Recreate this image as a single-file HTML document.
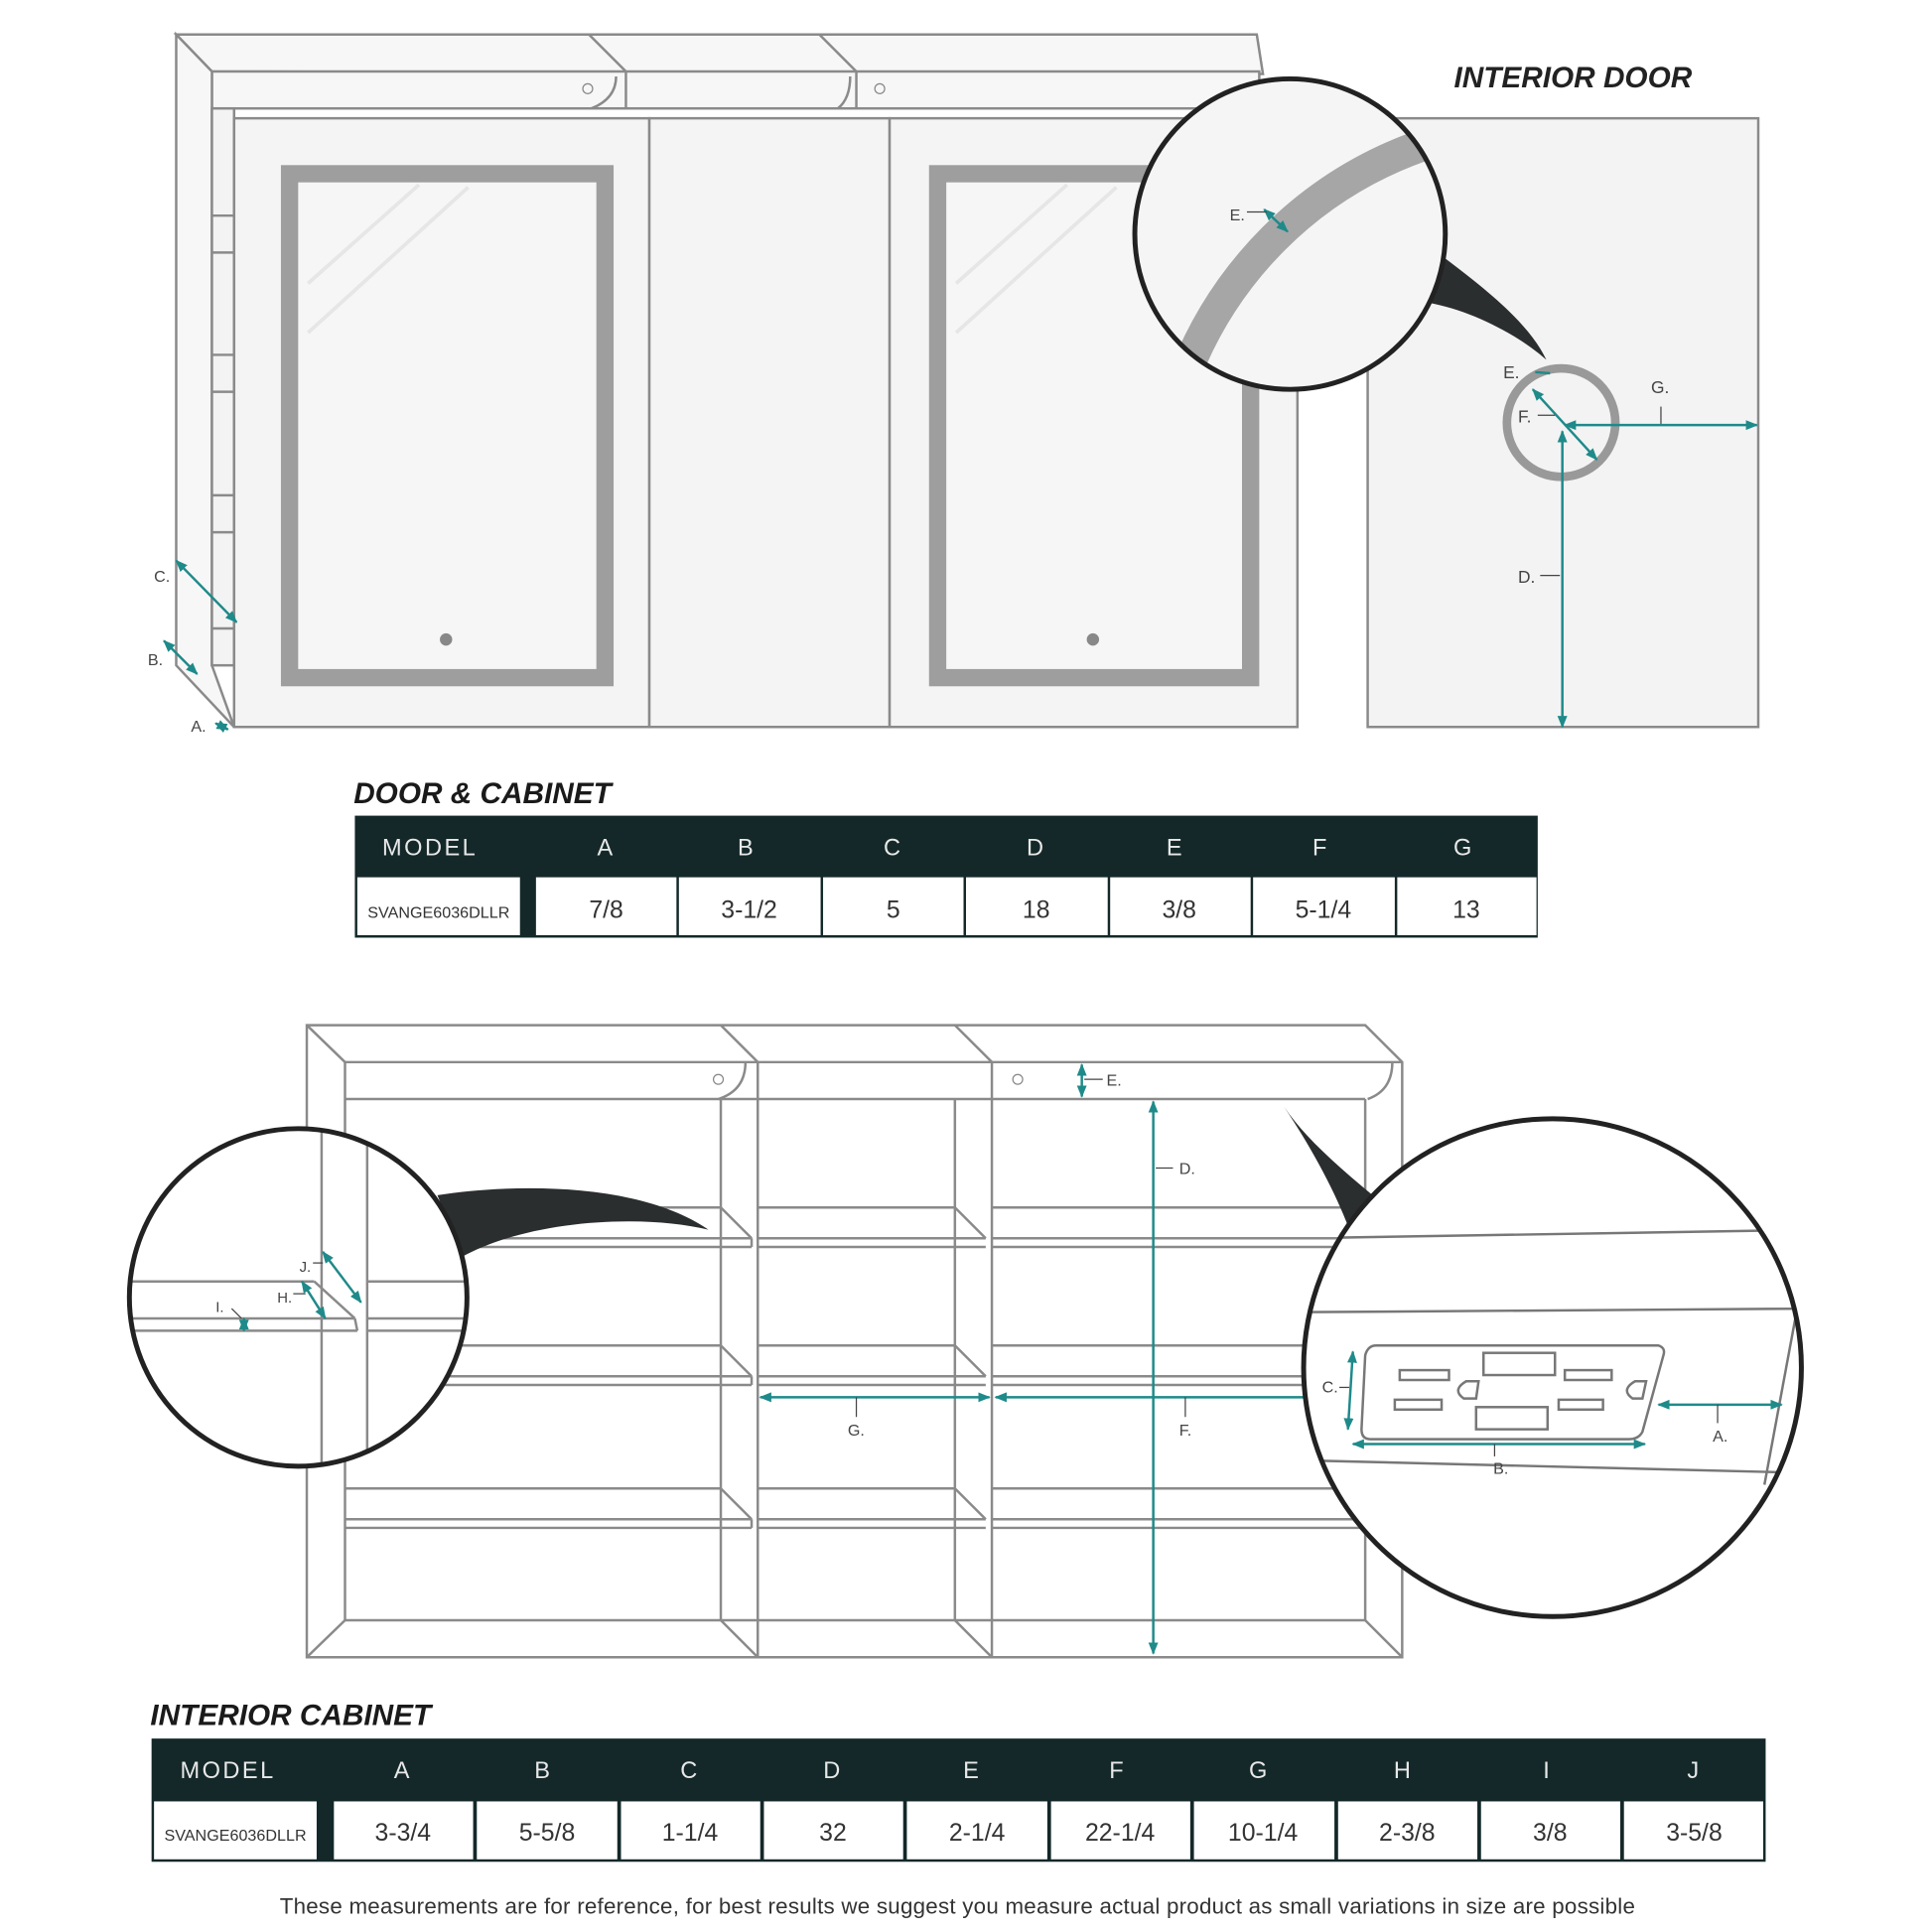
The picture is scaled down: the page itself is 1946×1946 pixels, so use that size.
<!DOCTYPE html>
<html><head><meta charset="utf-8"><style>
html,body{margin:0;padding:0;background:#fff;width:1946px;height:1946px;overflow:hidden}
svg{display:block}
text{font-family:"Liberation Sans",sans-serif}
</style></head><body>
<svg width="1946" height="1946" viewBox="0 0 1568 1568" xmlns="http://www.w3.org/2000/svg">
<defs>
<marker id="ah" viewBox="0 0 10 10" refX="9" refY="5" markerWidth="5" markerHeight="5" orient="auto-start-reverse"><path d="M0,1 L10,5 L0,9 z" fill="#1f8a8a"/></marker>
<clipPath id="c1"><circle cx="1047" cy="190" r="125"/></clipPath>
<clipPath id="c2"><circle cx="242" cy="1053" r="136"/></clipPath>
<clipPath id="c3"><circle cx="1260" cy="1110" r="201"/></clipPath>
</defs>
<rect width="1568" height="1568" fill="#fff"/>
<g fill="none" stroke="#8a8a8a" stroke-width="2">
<polygon points="143,28 1020,28 1025,60 172,58" fill="#f7f7f7"/>
<line x1="478" y1="28" x2="508" y2="58"/><line x1="665" y1="28" x2="695" y2="58"/>
<rect x="172" y="58" width="850" height="30" fill="#f7f7f7"/>
<line x1="508" y1="58" x2="508" y2="88"/><line x1="695" y1="58" x2="695" y2="88"/>
<path d="M480,88 Q500,80 500,62"/><path d="M680,88 Q690,80 690,62"/>
<polygon points="143,28 172,58 172,540 190,590 143,540" fill="#f7f7f7"/>
<rect x="172" y="88" width="18" height="452" fill="#f3f3f3"/>
<line x1="172" y1="175" x2="190" y2="175"/><line x1="172" y1="205" x2="190" y2="205"/>
<line x1="172" y1="288" x2="190" y2="288"/><line x1="172" y1="318" x2="190" y2="318"/>
<line x1="172" y1="402" x2="190" y2="402"/><line x1="172" y1="432" x2="190" y2="432"/>
<line x1="172" y1="510" x2="190" y2="510"/>
<rect x="190" y="96" width="337" height="494" fill="#f4f4f4"/>
<rect x="527" y="96" width="195" height="494" fill="#f4f4f4"/>
<rect x="722" y="96" width="331" height="494" fill="#f4f4f4"/>
<rect x="1110" y="96" width="317" height="494" fill="#f3f3f3"/>
</g>
<circle cx="477" cy="72" r="4" fill="none" stroke="#888"/><circle cx="714" cy="72" r="4" fill="none" stroke="#888"/>
<rect x="235" y="141" width="256" height="409" fill="#f6f6f6" stroke="#9e9e9e" stroke-width="14"/>
<rect x="761" y="141" width="254" height="409" fill="#f6f6f6" stroke="#9e9e9e" stroke-width="14"/>
<g stroke="#e6e6e6" stroke-width="3"><line x1="250" y1="230" x2="340" y2="150"/><line x1="250" y1="270" x2="380" y2="152"/><line x1="776" y1="230" x2="866" y2="150"/><line x1="776" y1="270" x2="906" y2="152"/></g>
<circle cx="362" cy="519" r="5" fill="#888"/><circle cx="887" cy="519" r="5" fill="#888"/>
<g stroke="#1f8a8a" stroke-width="2" marker-start="url(#ah)" marker-end="url(#ah)">
<line x1="143" y1="455" x2="192" y2="505"/><line x1="133" y1="520" x2="160" y2="547"/><line x1="175" y1="587" x2="185" y2="592"/>
</g>
<g font-size="13" fill="#444"><text x="125" y="472">C.</text><text x="120" y="540">B.</text><text x="155" y="594">A.</text></g>
<circle cx="1267" cy="343" r="44" fill="none" stroke="#999" stroke-width="7"/>
<g stroke="#1f8a8a" stroke-width="2">
<line x1="1244" y1="316" x2="1296" y2="373" marker-start="url(#ah)" marker-end="url(#ah)"/>
<line x1="1270" y1="345" x2="1426" y2="345" marker-start="url(#ah)" marker-end="url(#ah)"/>
<line x1="1268" y1="350" x2="1268" y2="590" marker-start="url(#ah)" marker-end="url(#ah)"/>
<line x1="1246" y1="302" x2="1258" y2="303"/>
</g>
<g stroke="#444" stroke-width="1"><line x1="1348" y1="330" x2="1348" y2="344"/><line x1="1248" y1="337" x2="1262" y2="337"/><line x1="1250" y1="467" x2="1266" y2="467"/></g>
<g font-size="14" fill="#444"><text x="1220" y="307">E.</text><text x="1232" y="343">F.</text><text x="1340" y="319">G.</text><text x="1232" y="473">D.</text></g>
<path d="M1160,200 C1200,230 1240,260 1255,292 C1230,270 1190,250 1155,245 Z" fill="#2b2e2f"/>
<circle cx="1047" cy="190" r="126" fill="#f6f5f5"/>
<g clip-path="url(#c1)"><circle cx="1260" cy="420" r="320" fill="none" stroke="#a6a6a6" stroke-width="26"/></g>
<circle cx="1047" cy="190" r="126" fill="none" stroke="#222" stroke-width="4"/>
<line x1="1026" y1="170" x2="1045" y2="188" stroke="#1f8a8a" stroke-width="2" marker-start="url(#ah)" marker-end="url(#ah)"/>
<line x1="1012" y1="172" x2="1028" y2="172" stroke="#444"/>
<text x="998" y="179" font-size="13" fill="#444">E.</text>
<text x="1180" y="71" font-size="24" font-weight="bold" font-style="italic" fill="#222">INTERIOR DOOR</text>
<text x="287" y="652" font-size="24" font-weight="bold" font-style="italic" fill="#1a1a1a">DOOR &amp; CABINET</text>
<rect x="288" y="662" width="960" height="99" fill="#142829"/>
<g fill="#fff"><rect x="290" y="712" width="132" height="47"/>
<rect x="435" y="712" width="114" height="47"/><rect x="551" y="712" width="115" height="47"/><rect x="668" y="712" width="114" height="47"/><rect x="784" y="712" width="115" height="47"/><rect x="901" y="712" width="114" height="47"/><rect x="1017" y="712" width="115" height="47"/><rect x="1134" y="712" width="113" height="47"/></g>
<g font-size="19" fill="#e8e8e8" text-anchor="middle" letter-spacing="2"><text x="349" y="694">MODEL</text><text x="492" y="694">A</text><text x="606" y="694">B</text><text x="725" y="694">C</text><text x="841" y="694">D</text><text x="954" y="694">E</text><text x="1072" y="694">F</text><text x="1188" y="694">G</text></g>
<g font-size="20" fill="#333" text-anchor="middle"><text x="356" y="745" font-size="13">SVANGE6036DLLR</text><text x="492" y="745">7/8</text><text x="608" y="745">3-1/2</text><text x="725" y="745">5</text><text x="841" y="745">18</text><text x="957" y="745">3/8</text><text x="1074" y="745">5-1/4</text><text x="1190" y="745">13</text></g>
<g fill="none" stroke="#8a8a8a" stroke-width="2">
<polygon points="249,832 1108,832 1138,862 1138,1345 249,1345" fill="#fff"/>
<line x1="249" y1="832" x2="280" y2="862"/><line x1="280" y1="862" x2="1138" y2="862"/>
<line x1="585" y1="832" x2="615" y2="862"/><line x1="775" y1="832" x2="805" y2="862"/>
<line x1="280" y1="862" x2="280" y2="1315"/><line x1="280" y1="1315" x2="249" y2="1345"/>
<line x1="1108" y1="892" x2="1108" y2="1315"/><line x1="1108" y1="1315" x2="1138" y2="1345"/>
<line x1="280" y1="892" x2="1108" y2="892"/>
<path d="M583,892 Q605,885 605,862"/><path d="M1110,892 Q1130,885 1130,862"/>
<line x1="615" y1="862" x2="615" y2="1345"/><line x1="805" y1="862" x2="805" y2="1345"/>
<line x1="585" y1="892" x2="585" y2="1315"/><line x1="775" y1="892" x2="775" y2="1315"/>
<line x1="585" y1="1315" x2="615" y2="1345"/><line x1="775" y1="1315" x2="805" y2="1345"/>
<line x1="280" y1="1315" x2="1108" y2="1315"/>
<g id="sh">
<line x1="280" y1="980" x2="585" y2="980"/><line x1="585" y1="980" x2="610" y2="1005"/><line x1="280" y1="1005" x2="610" y2="1005"/><line x1="280" y1="1012" x2="610" y2="1012"/><line x1="610" y1="1005" x2="610" y2="1012"/>
<line x1="615" y1="980" x2="775" y2="980"/><line x1="775" y1="980" x2="800" y2="1005"/><line x1="615" y1="1005" x2="800" y2="1005"/><line x1="615" y1="1012" x2="800" y2="1012"/>
<line x1="805" y1="980" x2="1108" y2="980"/><line x1="805" y1="1005" x2="1108" y2="1005"/><line x1="805" y1="1012" x2="1108" y2="1012"/>
</g>
<use href="#sh" y="112"/><use href="#sh" y="228"/>
</g>
<circle cx="583" cy="876" r="4" fill="none" stroke="#888"/><circle cx="826" cy="876" r="4" fill="none" stroke="#888"/>
<g stroke="#1f8a8a" stroke-width="2" marker-start="url(#ah)" marker-end="url(#ah)">
<line x1="878" y1="864" x2="878" y2="890"/><line x1="936" y1="894" x2="936" y2="1342"/>
<line x1="617" y1="1134" x2="803" y2="1134"/><line x1="808" y1="1134" x2="1070" y2="1134"/>
</g>
<g stroke="#444" stroke-width="1"><line x1="880" y1="876" x2="895" y2="876"/><line x1="938" y1="948" x2="952" y2="948"/><line x1="695" y1="1134" x2="695" y2="1150"/><line x1="962" y1="1134" x2="962" y2="1150"/></g>
<g font-size="13" fill="#444"><text x="898" y="881">E.</text><text x="957" y="953">D.</text><text x="688" y="1165">G.</text><text x="957" y="1165">F.</text></g>
<path d="M355,970 C420,960 520,960 575,998 C520,985 430,990 375,1020 Z" fill="#2b2e2f"/>
<circle cx="242" cy="1053" r="137" fill="#fff"/>
<g clip-path="url(#c2)" fill="none" stroke="#8a8a8a" stroke-width="2">
<line x1="261" y1="900" x2="261" y2="1200"/><line x1="298" y1="900" x2="298" y2="1200"/>
<line x1="100" y1="1040" x2="255" y2="1040"/><line x1="255" y1="1040" x2="288" y2="1070"/>
<line x1="100" y1="1070" x2="288" y2="1070"/><line x1="100" y1="1080" x2="290" y2="1080"/><line x1="288" y1="1070" x2="290" y2="1080"/>
<line x1="298" y1="1040" x2="400" y2="1040"/><line x1="298" y1="1070" x2="400" y2="1070"/><line x1="298" y1="1080" x2="400" y2="1080"/>
</g>
<circle cx="242" cy="1053" r="137" fill="none" stroke="#222" stroke-width="4"/>
<g stroke="#1f8a8a" stroke-width="2" marker-start="url(#ah)" marker-end="url(#ah)">
<line x1="262" y1="1016" x2="293" y2="1057"/><line x1="245" y1="1040" x2="264" y2="1070"/><line x1="198" y1="1070" x2="198" y2="1080"/>
</g>
<g stroke="#444" stroke-width="1"><line x1="254" y1="1025" x2="262" y2="1025"/><line x1="238" y1="1050" x2="248" y2="1050"/><line x1="188" y1="1062" x2="196" y2="1070"/></g>
<g font-size="12" fill="#444"><text x="243" y="1032">J.</text><text x="225" y="1057">H.</text><text x="175" y="1065">I.</text></g>
<path d="M1042,898 C1070,940 1090,980 1100,1012 L1120,975 C1090,950 1060,925 1042,898 Z" fill="#2b2e2f"/>
<circle cx="1260" cy="1110" r="202" fill="#fff"/>
<g clip-path="url(#c3)" fill="none" stroke="#777" stroke-width="2">
<line x1="1050" y1="1005" x2="1480" y2="998"/><line x1="1050" y1="1065" x2="1480" y2="1062"/><line x1="1050" y1="1185" x2="1450" y2="1195"/>
<line x1="1458" y1="1065" x2="1432" y2="1205"/>
<path d="M1117,1092 L1346,1092 Q1352,1094 1350,1100 L1333,1162 Q1330,1168 1322,1168 L1112,1168 Q1105,1168 1105,1160 L1108,1100 Q1110,1092 1117,1092 Z"/>
<rect x="1136" y="1112" width="40" height="8"/><rect x="1132" y="1136" width="38" height="8"/>
<rect x="1270" y="1112" width="38" height="8"/><rect x="1265" y="1136" width="36" height="8"/>
<rect x="1204" y="1098" width="58" height="18"/><rect x="1198" y="1142" width="58" height="18"/>
<path d="M1190,1121 L1200,1121 L1198,1135 L1188,1135 Q1178,1128 1190,1121 Z"/>
<path d="M1327,1121 L1336,1121 L1333,1135 L1325,1135 Q1315,1128 1327,1121 Z"/>
</g>
<circle cx="1260" cy="1110" r="202" fill="none" stroke="#222" stroke-width="4"/>
<g stroke="#1f8a8a" stroke-width="2" marker-start="url(#ah)" marker-end="url(#ah)">
<line x1="1098" y1="1097" x2="1094" y2="1160"/><line x1="1098" y1="1172" x2="1335" y2="1172"/><line x1="1346" y1="1140" x2="1446" y2="1140"/>
</g>
<g stroke="#444" stroke-width="1"><line x1="1087" y1="1126" x2="1095" y2="1126"/><line x1="1213" y1="1172" x2="1213" y2="1182"/><line x1="1394" y1="1140" x2="1394" y2="1155"/></g>
<g font-size="13" fill="#444"><text x="1073" y="1130">C.</text><text x="1212" y="1196">B.</text><text x="1390" y="1170">A.</text></g>
<text x="122" y="1400" font-size="24" font-weight="bold" font-style="italic" fill="#1a1a1a">INTERIOR CABINET</text>
<rect x="123" y="1411" width="1310" height="100" fill="#142829"/>
<g fill="#fff"><rect x="125" y="1462" width="132" height="47"/>
<rect x="271" y="1462" width="113" height="47"/><rect x="387" y="1462" width="114" height="47"/><rect x="504" y="1462" width="113" height="47"/><rect x="620" y="1462" width="113" height="47"/><rect x="736" y="1462" width="114" height="47"/><rect x="853" y="1462" width="113" height="47"/><rect x="969" y="1462" width="114" height="47"/><rect x="1086" y="1462" width="113" height="47"/><rect x="1202" y="1462" width="113" height="47"/><rect x="1318" y="1462" width="113" height="47"/></g>
<g font-size="19" fill="#e8e8e8" text-anchor="middle" letter-spacing="2"><text x="185" y="1443">MODEL</text><text x="327" y="1443">A</text><text x="441" y="1443">B</text><text x="560" y="1443">C</text><text x="676" y="1443">D</text><text x="789" y="1443">E</text><text x="907" y="1443">F</text><text x="1022" y="1443">G</text><text x="1139" y="1443">H</text><text x="1256" y="1443">I</text><text x="1375" y="1443">J</text></g>
<g font-size="20" fill="#333" text-anchor="middle"><text x="191" y="1494" font-size="13">SVANGE6036DLLR</text><text x="327" y="1494">3-3/4</text><text x="444" y="1494">5-5/8</text><text x="560" y="1494">1-1/4</text><text x="676" y="1494">32</text><text x="793" y="1494">2-1/4</text><text x="909" y="1494">22-1/4</text><text x="1025" y="1494">10-1/4</text><text x="1142" y="1494">2-3/8</text><text x="1258" y="1494">3/8</text><text x="1375" y="1494">3-5/8</text></g>
<text x="777" y="1553" font-size="18" fill="#333" text-anchor="middle" textLength="1100">These measurements are for reference, for best results we suggest you measure actual product as small variations in size are possible</text>
</svg>
</body></html>
